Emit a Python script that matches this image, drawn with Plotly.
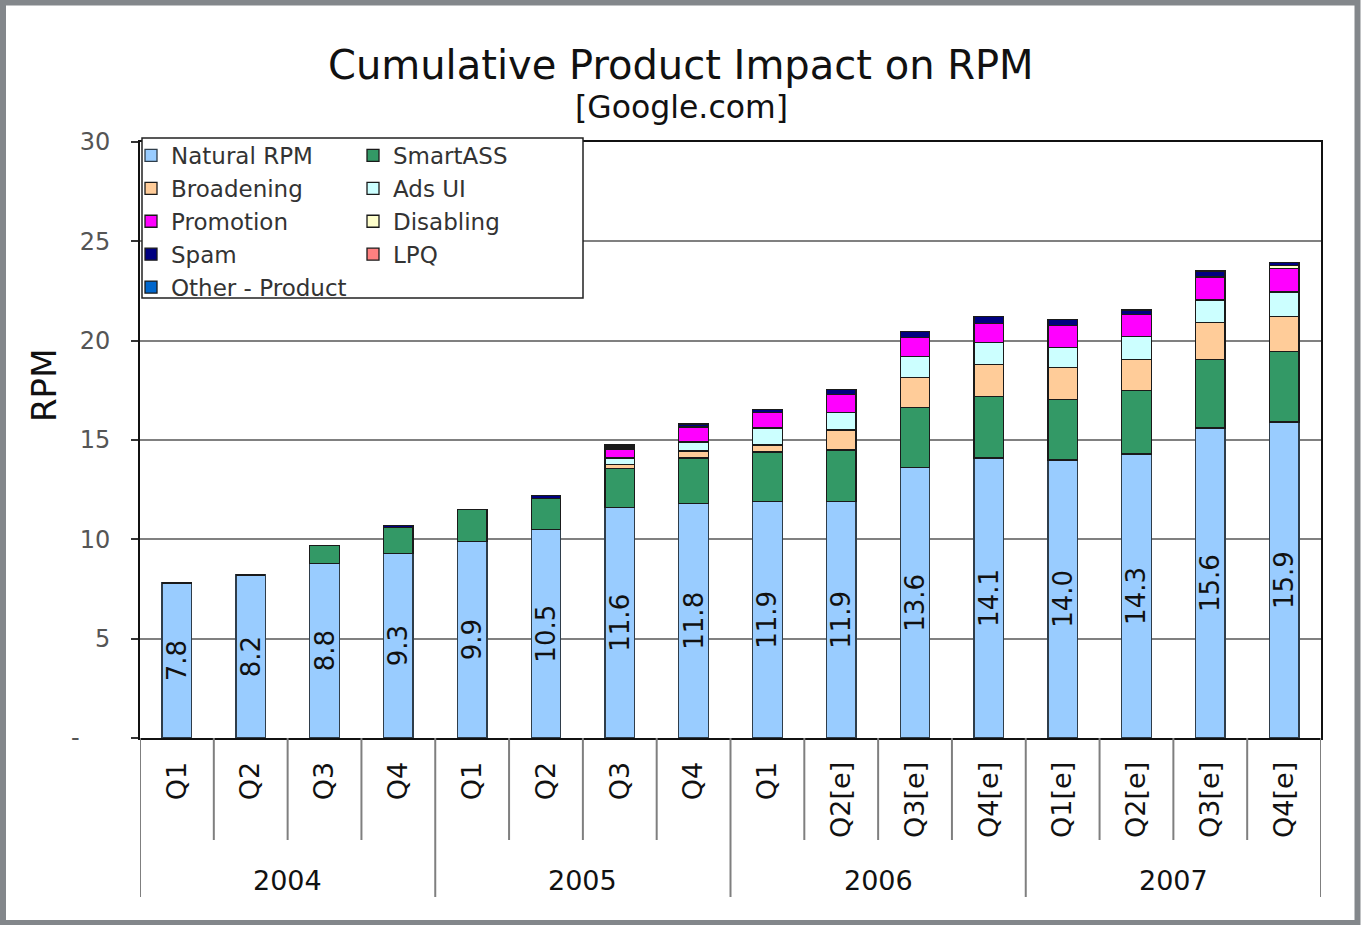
import plotly.graph_objects as go

# ---------------- data ----------------
years = ["2004", "2005", "2006", "2007"]
quarters = ["Q1", "Q2", "Q3", "Q4",
            "Q1", "Q2", "Q3", "Q4",
            "Q1", "Q2[e]", "Q3[e]", "Q4[e]",
            "Q1[e]", "Q2[e]", "Q3[e]", "Q4[e]"]

natural_rpm = [7.8, 8.2, 8.8, 9.3, 9.9, 10.5, 11.6, 11.8, 11.9, 11.9, 13.6, 14.1, 14.0, 14.3, 15.6, 15.9]
smartass    = [0, 0, 0.9, 1.3, 1.6, 1.55, 1.95, 2.3, 2.5, 2.6, 3.05, 3.1, 3.05, 3.2, 3.45, 3.55]
broadening  = [0, 0, 0, 0, 0, 0, 0.2, 0.35, 0.35, 1.0, 1.5, 1.6, 1.6, 1.55, 1.85, 1.75]
ads_ui      = [0, 0, 0, 0, 0, 0, 0.35, 0.45, 0.85, 0.9, 1.05, 1.1, 1.0, 1.15, 1.15, 1.25]
promotion   = [0, 0, 0, 0, 0, 0, 0.45, 0.75, 0.77, 0.9, 0.95, 0.95, 1.1, 1.1, 1.15, 1.2]
disabling   = [0, 0, 0, 0, 0, 0, 0.1, 0, 0, 0, 0, 0, 0, 0, 0, 0.15]
spam        = [0, 0, 0, 0.1, 0, 0.17, 0.1, 0.15, 0.17, 0.25, 0.3, 0.35, 0.3, 0.25, 0.3, 0.15]
lpq         = [0] * 16
other_prod  = [0] * 16

series = [
    ("Natural RPM", natural_rpm, "#99CCFF", "legend"),
    ("SmartASS", smartass, "#339966", "legend2"),
    ("Broadening", broadening, "#FFCC99", "legend"),
    ("Ads UI", ads_ui, "#CCFFFF", "legend2"),
    ("Promotion", promotion, "#FF00FF", "legend"),
    ("Disabling", disabling, "#FFFFCC", "legend2"),
    ("Spam", spam, "#000080", "legend"),
    ("LPQ", lpq, "#FF8080", "legend2"),
    ("Other - Product", other_prod, "#0066CC", "legend"),
]

FONT = "DejaVu Sans"
W, H = 1361, 925
L, R, T, B = 140, 40, 142, 187
PW, PH = W - L - R, H - T - B

def px_x(p):
    return (p - L) / PW

def px_y(p):
    return (H - B - p) / PH

x = list(range(len(quarters)))

fig = go.Figure()
for name, vals, color, leg in series:
    is_nat = name == "Natural RPM"
    fig.add_trace(go.Bar(
        x=x, y=vals, name=name, legend=leg,
        marker=dict(color=color, line=dict(color="#1a1a1a" if not is_nat else "#2f3d4a", width=1.3)),
        text=[f"{v:.1f}" for v in vals] if is_nat else None,
        texttemplate="%{text}" if is_nat else None,
        textposition="inside" if is_nat else "none",
        insidetextanchor="middle",
        textangle=-90,
        textfont=dict(family=FONT, size=26, color="#111"),
    ))

# separator lines under the category axis
shapes = []
n = len(quarters)
per_year = n // len(years)
for k in range(n + 1):
    is_year = (k % per_year == 0)
    shapes.append(dict(
        type="line", xref="x", yref="paper",
        x0=k - 0.5, x1=k - 0.5, y0=0, y1=px_y(897 if is_year else 840),
        line=dict(color="#7f7f7f", width=2),
    ))

# legend box
shapes.append(dict(
    type="rect", xref="paper", yref="paper",
    x0=px_x(142), x1=px_x(583), y0=px_y(298), y1=px_y(138),
    fillcolor="white", line=dict(color="#222", width=1.5), layer="above",
))

# outer grey frame
shapes.append(dict(
    type="rect", xref="paper", yref="paper",
    x0=px_x(3), x1=px_x(W - 3.5), y0=px_y(H - 2), y1=px_y(2.5),
    line=dict(color="#83878b", width=6), fillcolor="rgba(0,0,0,0)", layer="above",
))

annotations = []
for i, yr in enumerate(years):
    centre = sum(x[i * per_year:(i + 1) * per_year]) / per_year
    annotations.append(dict(
        x=centre, xref="x", y=px_y(880), yref="paper",
        text=yr, showarrow=False, xanchor="center", yanchor="middle",
        font=dict(family=FONT, size=27, color="#111"),
    ))

annotations.append(dict(
    x=px_x(681), y=px_y(65), xref="paper", yref="paper",
    text="Cumulative Product Impact on RPM", showarrow=False,
    xanchor="center", yanchor="middle",
    font=dict(family=FONT, size=40, color="#111"),
))
annotations.append(dict(
    x=px_x(681), y=px_y(107), xref="paper", yref="paper",
    text="[Google.com]", showarrow=False,
    xanchor="center", yanchor="middle",
    font=dict(family=FONT, size=31.5, color="#111"),
))
annotations.append(dict(
    x=px_x(44), y=px_y(386), xref="paper", yref="paper",
    text="RPM", showarrow=False, textangle=-90,
    xanchor="center", yanchor="middle",
    font=dict(family=FONT, size=34, color="#111"),
))

NB = "\u00a0"
ytick_vals = [0, 5, 10, 15, 20, 25, 30]
ytick_text = ["-" + NB * 4, "5", "10", "15", "20", "25", "30"]

fig.update_layout(
    width=W, height=H,
    margin=dict(l=L, r=R, t=T, b=B, autoexpand=False),
    barmode="stack", bargap=0.6,
    paper_bgcolor="white", plot_bgcolor="white",
    font=dict(family=FONT),
    showlegend=True,
    legend=dict(
        x=px_x(131), y=px_y(134), xanchor="left", yanchor="top",
        bgcolor="rgba(0,0,0,0)", borderwidth=0, traceorder="normal",
        font=dict(family=FONT, size=23, color="#333"), tracegroupgap=0,
    ),
    legend2=dict(
        x=px_x(353), y=px_y(134), xanchor="left", yanchor="top",
        bgcolor="rgba(0,0,0,0)", borderwidth=0, traceorder="normal",
        font=dict(family=FONT, size=23, color="#333"), tracegroupgap=0,
    ),
    uniformtext=dict(minsize=26, mode="show"),
    xaxis=dict(
        range=[-0.5, n - 0.5], tickmode="array", tickvals=x, ticktext=quarters,
        tickangle=-90, ticks="", showgrid=False, zeroline=False,
        showline=True, linecolor="#111", linewidth=2, mirror=True,
        tickfont=dict(family=FONT, size=27, color="#111"),
        ticklabelstandoff=11,
    ),
    yaxis=dict(
        range=[0, 30], tickmode="array", tickvals=ytick_vals, ticktext=ytick_text,
        ticks="outside", ticklen=7, tickcolor="#333", tickwidth=1.5,
        showgrid=True, gridcolor="#808080", gridwidth=1.5, zeroline=False,
        showline=True, linecolor="#111", linewidth=2, mirror=True,
        tickfont=dict(family=FONT, size=24, color="#555"),
        ticklabelstandoff=16,
    ),
    shapes=shapes,
    annotations=annotations,
)

fig.write_html(
    "out.html",
    config={"displayModeBar": False},
    post_script="document.body.style.margin='0';document.body.style.overflow='hidden';",
)
